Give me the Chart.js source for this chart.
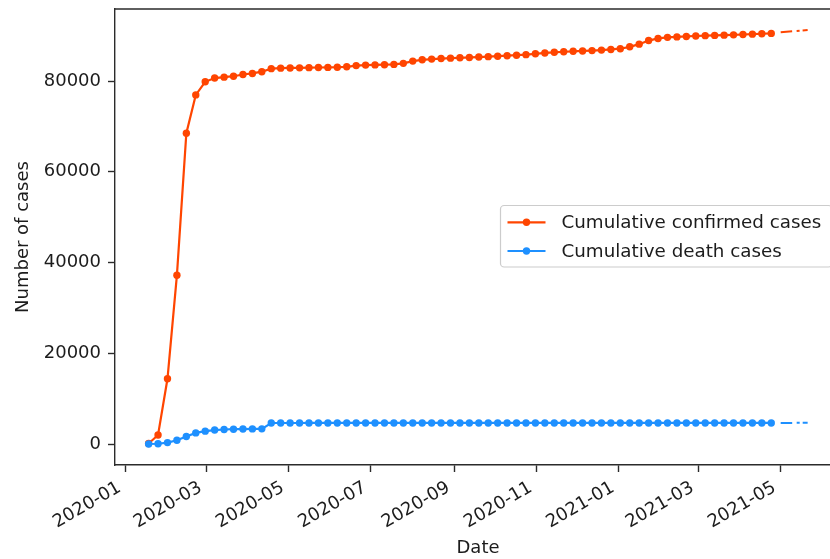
<!DOCTYPE html>
<html>
<head>
<meta charset="utf-8">
<script src="https://cdn.jsdelivr.net/npm/chart.js@4.4.0/dist/chart.umd.min.js"></script>
<style>
  html, body { margin: 0; padding: 0; background: #fff; overflow: hidden; width: 830px; height: 559px; }
  #wrap { position: relative; width: 860px; height: 559px; }
  canvas { display: block; }
</style>
</head>
<body>
<div id="wrap"><canvas id="c" width="860" height="559"></canvas></div>
<script>
// Weekly observations (Saturdays)
const weekDates = [
  '2020-01-18','2020-01-25','2020-02-01','2020-02-08','2020-02-15','2020-02-22','2020-02-29',
  '2020-03-07','2020-03-14','2020-03-21','2020-03-28','2020-04-04','2020-04-11','2020-04-18',
  '2020-04-25','2020-05-02','2020-05-09','2020-05-16','2020-05-23','2020-05-30','2020-06-06',
  '2020-06-13','2020-06-20','2020-06-27','2020-07-04','2020-07-11','2020-07-18','2020-07-25',
  '2020-08-01','2020-08-08','2020-08-15','2020-08-22','2020-08-29','2020-09-05','2020-09-12',
  '2020-09-19','2020-09-26','2020-10-03','2020-10-10','2020-10-17','2020-10-24','2020-10-31',
  '2020-11-07','2020-11-14','2020-11-21','2020-11-28','2020-12-05','2020-12-12','2020-12-19',
  '2020-12-26','2021-01-02','2021-01-09','2021-01-16','2021-01-23','2021-01-30','2021-02-06',
  '2021-02-13','2021-02-20','2021-02-27','2021-03-06','2021-03-13','2021-03-20','2021-03-27',
  '2021-04-03','2021-04-10','2021-04-17','2021-04-24'
];

const confirmedCases = [
  121, 1975, 14380, 37198, 68500, 76936, 79824,
  80651, 80844, 81054, 81439, 81669, 82052, 82719,
  82827, 82877, 82901, 82941, 82971, 83001, 83036,
  83132, 83396, 83500, 83553, 83594, 83660, 83891,
  84385, 84668, 84827, 84951, 85031, 85112, 85194,
  85279, 85372, 85470, 85578, 85685, 85810, 85997,
  86184, 86325, 86442, 86542, 86619, 86701, 86806,
  86955, 87117, 87536, 88118, 88911, 89378, 89619,
  89720, 89816, 89912, 89990, 90048, 90106, 90167,
  90243, 90330, 90416, 90494
];

const deathCases = [
  3, 56, 304, 811, 1665, 2442, 2835,
  3070, 3199, 3261, 3300, 3329, 3339, 4632,
  4633, 4633, 4633, 4634, 4634, 4634, 4634,
  4634, 4634, 4634, 4634, 4634, 4634, 4634,
  4634, 4634, 4634, 4634, 4634, 4634, 4634,
  4634, 4634, 4634, 4634, 4634, 4634, 4634,
  4634, 4634, 4634, 4634, 4634, 4634, 4634,
  4634, 4634, 4634, 4635, 4635, 4636, 4636,
  4636, 4636, 4636, 4636, 4636, 4636, 4636,
  4636, 4636, 4636, 4636
];

// Projected continuation (dash-dot)
const forecastDates = ['2021-05-01', '2021-05-21'];
const confirmedForecast = [90720, 91240];
const deathForecast = [4650, 4660];

// Axis ticks
const monthTicks = ['2020-01','2020-03','2020-05','2020-07','2020-09','2020-11','2021-01','2021-03','2021-05'];
const yTicks = [0, 20000, 40000, 60000, 80000];

const ORANGE = '#ff4500';
const BLUE = '#1e90ff';
const INK = '#1c1c1c';
const SPINE = '#2b2b2b';
const FONT = "'DejaVu Sans', sans-serif";

// days since 2020-01-01
const dayOf = s => {
  const [y, m, d] = s.split('-').map(Number);
  return (Date.UTC(y, m - 1, d || 1) - Date.UTC(2020, 0, 1)) / 86400000;
};
const toPoints = (dates, vals) => dates.map((d, i) => ({ x: dayOf(d), y: vals[i] }));

// Frame (top/right spines) and in-axes legend
const framePlugin = {
  id: 'frame',
  afterDraw(chart) {
    const { ctx, chartArea: a } = chart;
    ctx.save();
    ctx.strokeStyle = SPINE;
    ctx.lineWidth = 1.4;
    ctx.beginPath();
    ctx.moveTo(a.left, a.top);
    ctx.lineTo(a.right, a.top);
    ctx.lineTo(a.right, a.bottom);
    ctx.stroke();

    // legend box
    const bx = 500.5, by = 205.5, bw = 331.5, bh = 61.5, r = 3.6;
    ctx.beginPath();
    ctx.moveTo(bx + r, by);
    ctx.lineTo(bx + bw - r, by);
    ctx.arcTo(bx + bw, by, bx + bw, by + r, r);
    ctx.lineTo(bx + bw, by + bh - r);
    ctx.arcTo(bx + bw, by + bh, bx + bw - r, by + bh, r);
    ctx.lineTo(bx + r, by + bh);
    ctx.arcTo(bx, by + bh, bx, by + bh - r, r);
    ctx.lineTo(bx, by + r);
    ctx.arcTo(bx, by, bx + r, by, r);
    ctx.closePath();
    ctx.fillStyle = 'rgba(255,255,255,0.8)';
    ctx.fill();
    ctx.strokeStyle = '#cccccc';
    ctx.lineWidth = 1.2;
    ctx.stroke();

    const rows = [
      { label: chart.data.datasets[0].label, color: ORANGE, y: 222.3 },
      { label: chart.data.datasets[1].label, color: BLUE, y: 251 }
    ];
    ctx.font = '18.3px ' + FONT;
    ctx.textBaseline = 'middle';
    ctx.textAlign = 'left';
    rows.forEach(row => {
      ctx.strokeStyle = row.color;
      ctx.lineWidth = 2.2;
      ctx.beginPath();
      ctx.moveTo(507.5, row.y);
      ctx.lineTo(545.5, row.y);
      ctx.stroke();
      ctx.fillStyle = row.color;
      ctx.beginPath();
      ctx.arc(526.5, row.y, 3.7, 0, Math.PI * 2);
      ctx.fill();
      ctx.fillStyle = INK;
      ctx.fillText(row.label, 561.5, row.y + 1);
    });
    ctx.restore();
  }
};

const tickFont = { family: FONT, size: 18 };

new Chart(document.getElementById('c'), {
  type: 'line',
  data: {
    datasets: [
      {
        label: 'Cumulative confirmed cases',
        data: toPoints(weekDates, confirmedCases),
        borderColor: ORANGE, backgroundColor: ORANGE,
        pointBackgroundColor: ORANGE, pointBorderWidth: 0, pointRadius: 3.7,
        borderWidth: 2.2, tension: 0, order: 2
      },
      {
        label: 'Cumulative death cases',
        data: toPoints(weekDates, deathCases),
        borderColor: BLUE, backgroundColor: BLUE,
        pointBackgroundColor: BLUE, pointBorderWidth: 0, pointRadius: 3.7,
        borderWidth: 2.2, tension: 0, order: 1
      },
      {
        label: 'confirmed projection',
        data: toPoints(forecastDates, confirmedForecast),
        borderColor: ORANGE, borderWidth: 2, pointRadius: 0,
        borderDash: [11.5, 4.5, 3, 3], tension: 0, order: 4
      },
      {
        label: 'death projection',
        data: toPoints(forecastDates, deathForecast),
        borderColor: BLUE, borderWidth: 2, pointRadius: 0,
        borderDash: [11.5, 4.5, 3, 3], tension: 0, order: 3
      }
    ]
  },
  options: {
    responsive: false,
    animation: false,
    events: [],
    layout: { padding: { top: 9, right: 19, left: 0, bottom: 0 } },
    plugins: { legend: { display: false }, tooltip: { enabled: false } },
    scales: {
      x: {
        type: 'linear',
        min: -7.94,
        max: 530.75,
        afterFit(s) { s.height = 94; s.paddingLeft = 0; s.paddingRight = 0; },
        afterBuildTicks(s) { s.ticks = monthTicks.map(m => ({ value: dayOf(m) })); },
        ticks: {
          autoSkip: false, minRotation: 30, maxRotation: 30,
          color: INK, font: tickFont, padding: 5, labelOffset: -6,
          callback: (v, i) => monthTicks[i]
        },
        grid: { drawOnChartArea: false, drawTicks: true, tickLength: 7, tickWidth: 1.4, tickColor: SPINE },
        border: { display: true, color: SPINE, width: 1.4 },
        title: { display: true, text: 'Date', color: INK, font: tickFont, padding: { top: 0, bottom: 0 } }
      },
      y: {
        min: -4628,
        max: 95868,
        afterFit(s) { s.width = 115; s.paddingTop = 0; s.paddingBottom = 0; },
        afterBuildTicks(s) { s.ticks = yTicks.map(v => ({ value: v })); },
        ticks: { color: INK, font: tickFont, padding: 7, callback: v => String(v) },
        grid: { drawOnChartArea: false, drawTicks: true, tickLength: 7, tickWidth: 1.4, tickColor: SPINE },
        border: { display: true, color: SPINE, width: 1.4 },
        title: { display: true, text: 'Number of cases', color: INK, font: tickFont, padding: { top: 13, bottom: 0 } }
      }
    }
  },
  plugins: [framePlugin]
});
</script>
</body>
</html>
